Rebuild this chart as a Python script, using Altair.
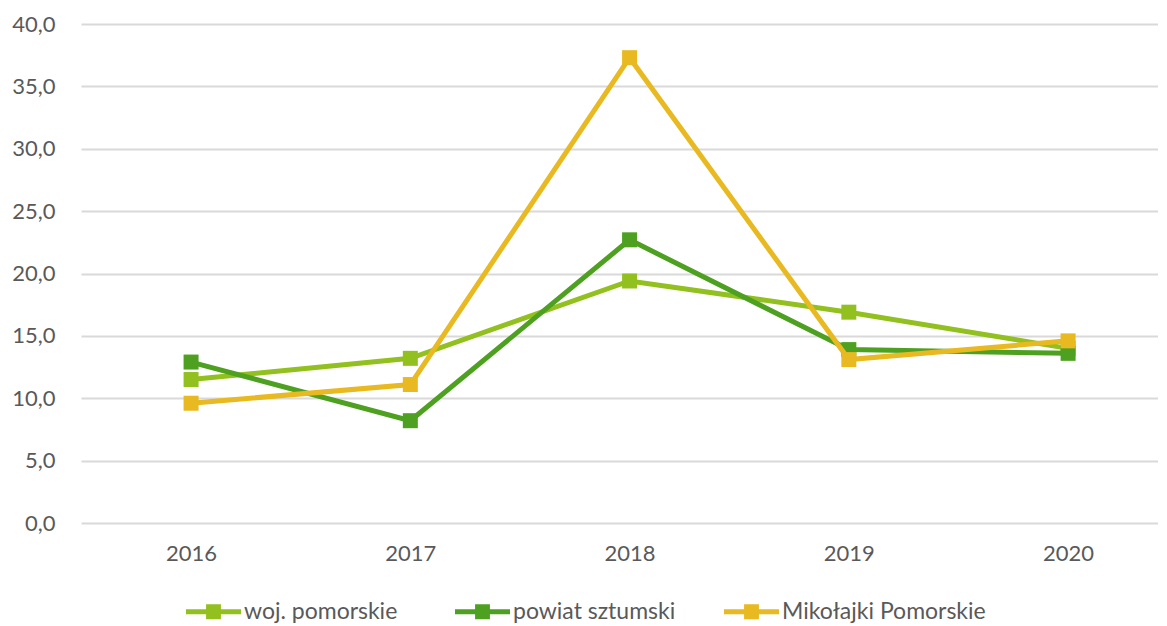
import altair as alt
import pandas as pd

years = [2016, 2017, 2018, 2019, 2020]
series_names = ["woj. pomorskie", "powiat sztumski", "Mikołajki Pomorskie"]
woj = [11.5, 13.2, 19.4, 16.9, 14.0]
powiat = [12.9, 8.2, 22.7, 13.9, 13.6]
mikolajki = [9.6, 11.1, 37.3, 13.1, 14.6]
colors = ["#92C01F", "#4EA020", "#E8B920"]
y_ticks = [0, 5, 10, 15, 20, 25, 30, 35, 40]

rows = []
for name, vals in zip(series_names, [woj, powiat, mikolajki]):
    for yr, v in zip(years, vals):
        rows.append({"rok": yr, "seria": name, "wartosc": v})
df = pd.DataFrame(rows)

FONT = "Lato"
TXT = "#595959"
FS = 22
LFS = 23

x_enc = alt.X(
    "rok:Q",
    scale=alt.Scale(domain=[2015.498, 2020.41], nice=False, zero=False),
    axis=alt.Axis(title=None, values=years, format="d", labelAngle=0, ticks=False,
                  domain=False, grid=False, labelPadding=20, labelFontSize=FS,
                  labelColor=TXT, labelFont=FONT),
)
y_enc = alt.Y(
    "wartosc:Q",
    scale=alt.Scale(domain=[0, 40], nice=False, zero=True),
    axis=alt.Axis(title=None, values=y_ticks, ticks=False, domain=False,
                  gridColor="#D9D9D9", gridWidth=2, labelPadding=26,
                  labelFontSize=FS, labelColor=TXT, labelFont=FONT,
                  labelExpr="replace(format(datum.value, '.1f'), '.', ',')"),
)

legend_path = "M-1,-0.09 H-0.27 V-0.27 H0.27 V-0.09 H1 V0.09 H0.27 V0.27 H-0.27 V0.09 H-1 Z"

color_enc = alt.Color(
    "seria:N",
    scale=alt.Scale(domain=series_names, range=colors),
    legend=alt.Legend(
        title=None, orient="none", legendX=105, legendY=560, direction="horizontal",
        columns=3, gridAlign="all",
        symbolType=legend_path, symbolSize=3025, symbolStrokeWidth=0, symbolOpacity=1,
        labelFontSize=LFS, labelColor=TXT, labelFont=FONT, labelOffset=3,
        labelLimit=400, columnPadding=7,
    ),
)

base = alt.Chart(df)
layers = []
for name, col in zip(series_names, colors):
    sub = base.transform_filter(alt.datum.seria == name)
    layers.append(sub.mark_line(color=col, strokeWidth=5).encode(x=x_enc, y=y_enc))
    layers.append(
        sub.mark_point(shape="square", filled=True, size=225, opacity=1).encode(
            x=x_enc, y=y_enc, color=color_enc
        )
    )

chart = (
    alt.layer(*layers)
    .properties(width=1077, height=499, padding={"left": 3, "top": 5, "right": 0, "bottom": 0},
                background="white")
    .configure_view(stroke=None)
)

chart.save("out.html", embed_options={"renderer": "svg", "actions": False})
